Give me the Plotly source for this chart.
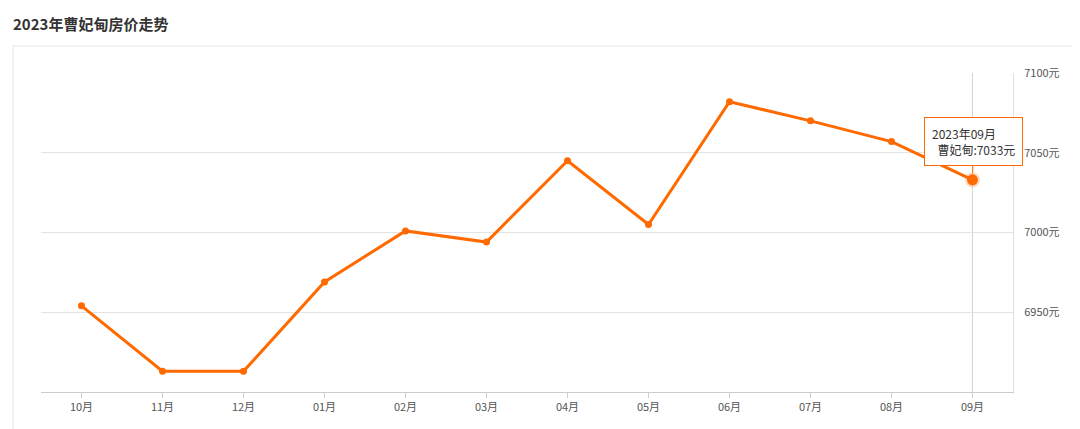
import plotly.graph_objects as go

months = ["10月", "11月", "12月", "01月", "02月", "03月", "04月", "05月", "06月", "07月", "08月", "09月"]
prices = [6954, 6913, 6913, 6969, 7001, 6994, 7045, 7005, 7082, 7070, 7057, 7033]
series_name = "曹妃甸"
tooltip_title = "2023年09月"
title_text = "2023年曹妃甸房价走势"
y_ticks = [6950, 7000, 7050, 7100]
y_labels = [f"{v}元" for v in y_ticks]

ORANGE = "#ff6a00"
FONT = "Noto Sans CJK SC, Microsoft YaHei, sans-serif"

# page body has an 8px margin; figure sized to fit window
W, H = 1072, 421
OFF = 8

fig = go.Figure()
fig.add_trace(go.Scatter(
    x=months, y=prices, mode="lines+markers",
    line=dict(color=ORANGE, width=3),
    marker=dict(color=ORANGE, size=7),
    hoverinfo="skip", showlegend=False,
))
fig.add_trace(go.Scatter(
    x=[months[-1]], y=[prices[-1]], mode="markers",
    marker=dict(color=ORANGE, size=11, line=dict(color="rgba(255,106,0,0.25)", width=4)),
    hoverinfo="skip", showlegend=False,
))

pl, pr, pt, pb = 41 - OFF, 1013 - OFF, 73 - OFF, 392 - OFF

fig.update_layout(
    width=W, height=H,
    margin=dict(l=pl, r=W - pr, t=pt, b=H - pb),
    paper_bgcolor="white", plot_bgcolor="white",
    font=dict(family=FONT, color="#666", size=11),
    title=dict(text="<b>" + title_text + "</b>", x=(13 - OFF) / W, xanchor="left",
               y=1 - (25 - OFF) / H, yanchor="middle",
               font=dict(size=15, color="#333", family=FONT)),
    xaxis=dict(
        type="category", range=[-0.5, len(months) - 0.5],
        showgrid=False, showline=True, linecolor="#cccccc", linewidth=1,
        ticks="outside", ticklen=5, tickcolor="#cccccc",
        tickfont=dict(size=11, color="#555"), zeroline=False, fixedrange=True,
    ),
    yaxis=dict(
        side="right", range=[6900, 7100], tickvals=y_ticks, ticktext=y_labels,
        showgrid=True, gridcolor="#e3e3e3", gridwidth=1,
        showline=True, linecolor="#e0e0e0", linewidth=1,
        ticks="", ticklabelstandoff=8,
        tickfont=dict(size=11, color="#555"), zeroline=False,
    ),
    shapes=[
        dict(type="rect", xref="paper", yref="paper",
             x0=(13 - 41) / 972, x1=1.2, y0=-0.3, y1=1 + (73 - 46) / 319,
             line=dict(color="#e6e6e6", width=1), fillcolor="rgba(0,0,0,0)", layer="below"),
        dict(type="line", xref="x", yref="paper", x0=months[-1], x1=months[-1], y0=0, y1=1,
             line=dict(color="#d5d5d5", width=1), layer="below"),
    ],
    annotations=[
        dict(x=months[-1], y=prices[-1], xref="x", yref="y",
             text=tooltip_title + "<br>&nbsp;&nbsp;" + series_name + ":" + f"{prices[-1]}元",
             showarrow=True, arrowhead=0, arrowcolor=ORANGE, arrowwidth=1,
             ax=1, ay=-38, standoff=7,
             align="left", bgcolor="white", bordercolor=ORANGE, borderwidth=1, borderpad=7,
             font=dict(size=12, color="#333", family=FONT)),
    ],
)

fig.write_html("out.html")
